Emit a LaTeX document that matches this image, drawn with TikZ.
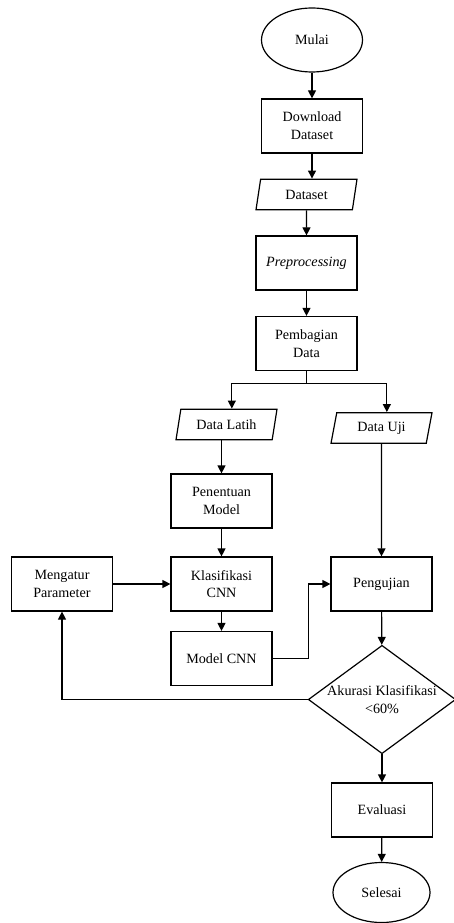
\documentclass[tikz,border=0pt]{standalone}
\usepackage{fontspec}
\setmainfont{Liberation Serif}
\usetikzlibrary{shapes.geometric, arrows.meta}

\begin{document}
\begin{tikzpicture}[x=0.75pt, y=-0.75pt,
  txt/.style={font=\fontsize{10.6}{13.3}\selectfont},
  box/.style={txt, draw, minimum width=75.75pt, minimum height=40.5pt,
              inner sep=1pt, align=center},
  term/.style={txt, draw, ellipse, minimum width=75.75pt, minimum height=48pt,
               inner sep=0pt},
  io/.style={txt, draw, trapezium, trapezium left angle=69, trapezium right angle=111,
             trapezium stretches body, minimum width=75.75pt, minimum height=23pt,
             inner sep=1pt},
  dec/.style={txt, draw, diamond, aspect=1.36, inner sep=0pt, align=center},
  line width=0.9pt, >={Triangle[length=6pt,width=6pt]}]
\useasboundingbox (0,0) rectangle (453,923);
% alur utama
\node[term] (mulai) at (312,40) {Mulai};
\node[box] (unduh) at (312,126) {Download\\Dataset};
\node[io] (dataset) at (306.5,194.5) {Dataset};
\node[box] (prepro) at (306.5,263) {\textit{Preprocessing}};
\node[box] (bagi) at (306.5,343.5) {Pembagian\\Data};
\node[io] (latih) at (226.5,424.5) {Data Latih};
\node[io] (uji) at (381.5,428) {Data Uji};
\node[box] (tentu) at (221.5,501) {Penentuan\\Model};
\node[box] (klas) at (221.5,584) {Klasifikasi\\CNN};
\node[box] (atur) at (62,584) {Mengatur\\Parameter};
\node[box] (model) at (221.5,658.5) {Model CNN};
\node[box] (penguji) at (381.5,584) {Pengujian};
\node[dec] (akurasi) at (382,699.5) {Akurasi Klasifikasi\\<60\%};
\node[box] (eval) at (382,810) {Evaluasi};
\node[term, minimum width=72.75pt, minimum height=45pt] (selesai) at (381.5,892.5) {Selesai};

\draw[->] (mulai) -- (unduh);
\draw[->] (unduh.south) -- (unduh.south |- dataset.north);
\draw[->] (dataset) -- (prepro);
\draw[->] (prepro) -- (bagi);
\draw[->] (bagi.south) -- ++(0,12) -| ([xshift=4pt]latih.north);
\draw[->] (bagi.south) -- ++(0,12) -| ([xshift=4pt]uji.north);
\draw[->] (tentu.north |- latih.south) -- (tentu.north);
\draw[->] (tentu) -- (klas);
\draw[->] (atur) -- (klas);
\draw[->] (klas) -- (model);
\draw[->] (uji.south) -- (penguji.north);
\draw[->] (model.east) -- ++(36,0) |- (penguji.west);
\draw[->] (penguji) -- (akurasi);
\draw[->] (akurasi.west) -| (atur.south);
\draw[->] (akurasi) -- (eval);
\draw[->] (eval) -- (selesai);
\end{tikzpicture}
\end{document}
